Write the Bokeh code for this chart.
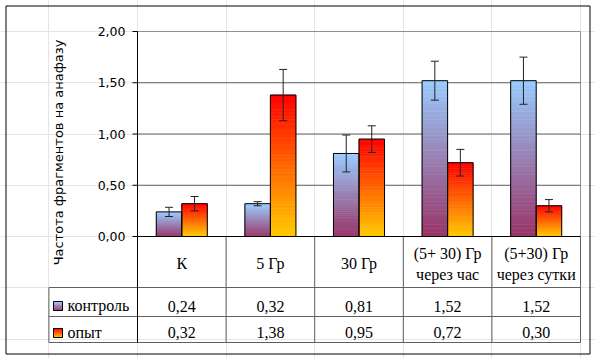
from math import pi
from bokeh.plotting import figure
from bokeh.models import Range1d, ColumnDataSource, Whisker, TeeHead
from bokeh.core.properties import value
from bokeh.embed import file_html
from bokeh.resources import INLINE

# ---------------- data ----------------
categories = ["К", "5 Гр", "30 Гр", "(5+ 30) Гр\nчерез час", "(5+30) Гр\nчерез сутки"]
series_names = ["контроль", "опыт"]
control = [0.24, 0.32, 0.81, 1.52, 1.52]
control_err = [0.045, 0.02, 0.18, 0.19, 0.23]
experiment = [0.32, 1.38, 0.95, 0.72, 0.30]
experiment_err = [0.07, 0.25, 0.13, 0.13, 0.06]
y_ticks = [0.0, 0.5, 1.0, 1.5, 2.0]
y_title = "Частота фрагментов на анафазу"

# ---------------- layout (page pixels) ----------------
PAGE_OFF = 0
W, H = 595, 358
X0_PAGE, CAT_W = 137.0, 88.6      # x=0 on page, px per category
Y0_PAGE, Y_SCALE = 236.0, 102.5   # y=0 on page, px per unit


def px(page_x):
    return (page_x - X0_PAGE) / CAT_W


def py(page_y):
    return (Y0_PAGE - page_y) / Y_SCALE


def fmt(v):
    return f"{v:.2f}".replace(".", ",")


def lerp(c0, c1, t):
    a = [int(c0[i:i + 2], 16) for i in (1, 3, 5)]
    b = [int(c1[i:i + 2], 16) for i in (1, 3, 5)]
    return "#%02x%02x%02x" % tuple(round(a[k] + (b[k] - a[k]) * t) for k in range(3))


CTRL_TOP, CTRL_BOT = "#99ccff", "#993366"
EXP_TOP, EXP_BOT = "#ff0000", "#ffcc00"

p = figure(width=W, height=H, title=None,
           x_range=Range1d(px(PAGE_OFF), px(PAGE_OFF + W)),
           y_range=Range1d(py(PAGE_OFF + H), py(PAGE_OFF)),
           x_axis_location=None, y_axis_location=None,
           output_backend="svg", toolbar_location=None, min_border=0)
p.outline_line_color = None
p.background_fill_color = "white"
p.border_fill_color = "white"

# outer chart frame
p.quad(left=[px(5.5)], right=[px(589.5)], bottom=[py(353.5)], top=[py(5.5)],
       fill_color=None, line_color="black", line_width=1)

ROW1, ROW2, ROW3 = py(287), py(316), py(342)
GRID = "#606060"

# gridlines
p.segment(x0=[0] * 3, x1=[5] * 3, y0=y_ticks[1:4], y1=y_ticks[1:4], line_color=GRID, line_width=1)
# plot area top/right (gray)
p.segment(x0=[0, 5], x1=[5, 5], y0=[2, 2], y1=[2, 0], line_color="#909090", line_width=1)

# gradient bars
BW = 0.288
N = 40
sl = dict(left=[], right=[], bottom=[], top=[], color=[])
outl = dict(left=[], right=[], bottom=[], top=[])


def grad_rect(l, r, b, t, ctop, cbot, n):
    h = (t - b) / n
    for k in range(n):
        sl["left"].append(l)
        sl["right"].append(r)
        sl["bottom"].append(b + k * h)
        sl["top"].append(b + (k + 1) * h)
        sl["color"].append(lerp(cbot, ctop, (k + 0.5) / n))


for i in range(len(categories)):
    c = i + 0.5
    grad_rect(c - BW, c, 0, control[i], CTRL_TOP, CTRL_BOT, N)
    grad_rect(c, c + BW, 0, experiment[i], EXP_TOP, EXP_BOT, N)
    outl["left"] += [c - BW, c]
    outl["right"] += [c, c + BW]
    outl["bottom"] += [0, 0]
    outl["top"] += [control[i], experiment[i]]

# legend swatches
sw_l, sw_r = px(53), px(62)
grad_rect(sw_l, sw_r, py(310), py(301), CTRL_TOP, CTRL_BOT, 10)
grad_rect(sw_l, sw_r, py(337), py(328), EXP_TOP, EXP_BOT, 10)
outl["left"] += [sw_l, sw_l]
outl["right"] += [sw_r, sw_r]
outl["bottom"] += [py(310), py(337)]
outl["top"] += [py(301), py(328)]

p.quad(left="left", right="right", bottom="bottom", top="top", source=ColumnDataSource(sl),
       fill_color="color", line_color="color", line_width=0.6)
p.quad(left="left", right="right", bottom="bottom", top="top", source=ColumnDataSource(outl),
       fill_color=None, line_color="black", line_width=1)

# error bars
err_src = ColumnDataSource(dict(
    x=[i + 0.5 - BW / 2 for i in range(5)] + [i + 0.5 + BW / 2 for i in range(5)],
    upper=[v + e for v, e in zip(control, control_err)] + [v + e for v, e in zip(experiment, experiment_err)],
    lower=[v - e for v, e in zip(control, control_err)] + [v - e for v, e in zip(experiment, experiment_err)],
))
whisk = Whisker(base="x", upper="upper", lower="lower", source=err_src, dimension="height",
                line_color="#222222", line_width=1,
                upper_head=TeeHead(size=8, line_color="#222222", line_width=1),
                lower_head=TeeHead(size=8, line_color="#222222", line_width=1))
whisk.level = "overlay"
p.add_layout(whisk)

# table lines
p.segment(x0=[-1, -1, -1], x1=[5, 5, 5], y0=[ROW1, ROW2, ROW3], y1=[ROW1, ROW2, ROW3],
          line_color=GRID, line_width=1)
p.segment(x0=[-1, 1, 2, 3, 4, 5], x1=[-1, 1, 2, 3, 4, 5],
          y0=[ROW1, 0, 0, 0, 0, 0], y1=[ROW3] * 6, line_color=GRID, line_width=1)
# axis line and baseline
p.segment(x0=[0, 0], x1=[0, 5], y0=[2, 0], y1=[ROW3, 0], line_color="black", line_width=1)
# y ticks
p.segment(x0=[px(132)] * 5, x1=[0] * 5, y0=y_ticks, y1=y_ticks, line_color="black", line_width=1)
p.text(x=[0] * 5, y=y_ticks, text=[fmt(v) for v in y_ticks], x_offset=-12,
       text_align="right", text_baseline="middle", text_font=value("DejaVu Sans"),
       text_font_size="12.5px", text_color="black")

# y title
p.text(x=[px(58)], y=[py(152)], text=[y_title], angle=pi / 2, text_align="center",
       text_baseline="middle", text_font=value("DejaVu Sans"), text_font_size="13px",
       text_color="black")

SERIF = value("Liberation Serif")
FS = "16px"
# category header
hx, hy, ht = [], [], []
for i, cat in enumerate(categories):
    lines = cat.split("\n")
    if len(lines) == 1:
        hx.append(i + 0.5); hy.append(py(263)); ht.append(lines[0])
    else:
        hx += [i + 0.5, i + 0.5]; hy += [py(253), py(274)]; ht += lines
p.text(x=hx, y=hy, text=ht, text_align="center", text_baseline="middle",
       text_font=SERIF, text_font_size=FS, text_color="black")

# values
vx = [i + 0.5 for i in range(5)] * 2
vy = [py(306)] * 5 + [py(332)] * 5
vt = [fmt(v) for v in control] + [fmt(v) for v in experiment]
p.text(x=vx, y=vy, text=vt, text_align="center", text_baseline="middle",
       text_font=SERIF, text_font_size=FS, text_color="black")

# legend labels
p.text(x=[px(67)] * 2, y=[py(305), py(332)], text=series_names, text_align="left",
       text_baseline="middle", text_font=SERIF, text_font_size=FS, text_color="black")

open("out.html", "w").write(file_html(p, INLINE))
